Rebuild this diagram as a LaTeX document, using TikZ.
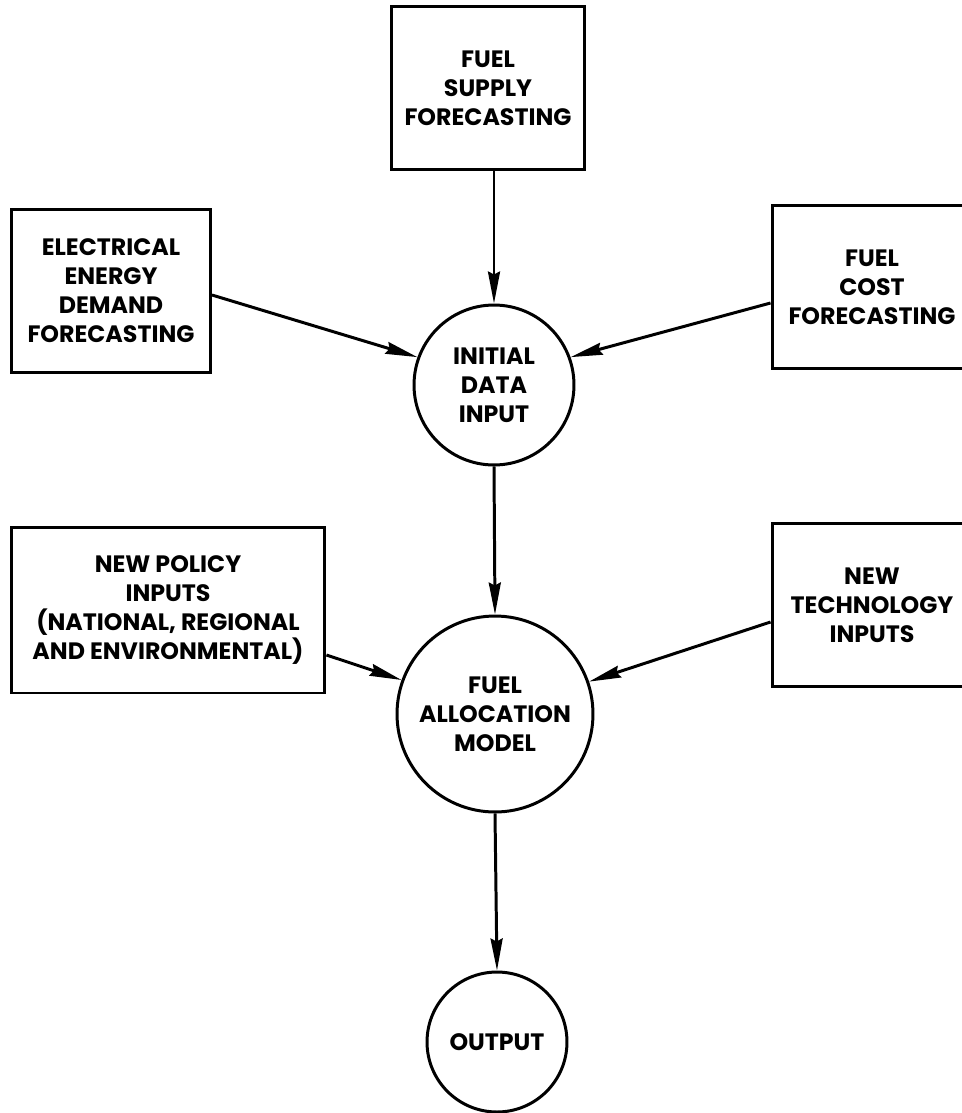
\documentclass[tikz,border=0pt]{standalone}
\usepackage{fontspec}
\setmainfont{Poppins}
\usetikzlibrary{arrows.meta,calc}
\newcommand{\LINEW}{1.7pt}
\newcommand{\LABELFONT}{\fontsize{13.5}{16.5}\selectfont\bfseries}
\tikzset{
	inbox/.style={draw,rectangle,line width=\LINEW,align=center,inner sep=0pt,font=\LABELFONT},
	proc/.style={draw,circle,line width=\LINEW,align=center,inner sep=0pt,font=\LABELFONT},
	flow/.style={-{Stealth[length=0.64cm,width=0.24cm,inset=0.06cm]},line width=\LINEW}
}

\begin{document}
\begin{tikzpicture}[x=0.02cm,y=-0.02cm]

		\useasboundingbox (0,0) rectangle (961,1113);

		%% input boxes
		\node[inbox,minimum width=3.86cm,minimum height=3.26cm] (supply) at (488,88) {FUEL\\SUPPLY\\FORECASTING};
		\node[inbox,minimum width=3.98cm,minimum height=3.28cm] (demand) at (111,291) {ELECTRICAL\\ENERGY\\DEMAND\\FORECASTING};
		\node[inbox,minimum width=4.0cm,minimum height=3.26cm] (cost) at (872,287) {FUEL\\COST\\FORECASTING};
		\node[inbox,minimum width=6.28cm,minimum height=3.32cm] (policy) at (168,610) {NEW POLICY\\INPUTS\\(NATIONAL, REGIONAL\\AND ENVIRONMENTAL)};
		\node[inbox,minimum width=4.0cm,minimum height=3.26cm] (tech) at (872,605) {NEW\\TECHNOLOGY\\INPUTS};

		%% process circles
		\node[proc,minimum size=3.2cm] (initdata) at (494,385) {INITIAL\\DATA\\INPUT};
		\node[proc,minimum size=3.92cm] (model) at (495,714) {FUEL\\ALLOCATION\\MODEL};
		\node[proc,minimum size=2.8cm] (output) at (497,1042) {OUTPUT};

		%% flows
		\draw[flow] (supply.south -| initdata.north) -- (initdata.north);
		\draw[flow] ([yshift=-0.08cm]demand.east) -- (initdata.160);
		\draw[flow] ([yshift=-0.32cm]cost.west) -- (initdata.20);
		\draw[flow] (initdata.south) -- (model.north);
		\draw[flow] ([yshift=-0.9cm]policy.east) -- (model.160);
		\draw[flow] ([yshift=-0.34cm]tech.west) -- (model.19);
		\draw[flow] (model.south) -- (output.north);

\end{tikzpicture}
\end{document}
